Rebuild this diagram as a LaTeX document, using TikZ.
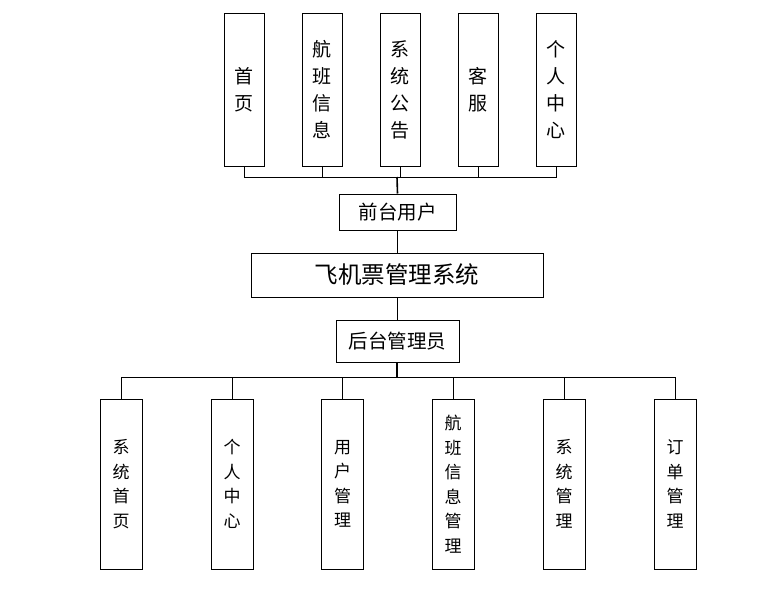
\documentclass[tikz,border=0pt]{standalone}
\usepackage{fontspec}
\setmainfont{Noto Sans CJK SC}
\usepackage{tikz}
\usetikzlibrary{positioning}
\tikzset{
  topbox/.style={rectangle, draw, line width=1pt, minimum width=40pt, minimum height=153pt, inner sep=0pt, align=center, font=\fontsize{19}{27}\selectfont},
  botbox/.style={rectangle, draw, line width=1pt, minimum width=42pt, minimum height=170pt, inner sep=0pt, align=center, font=\fontsize{17}{24.5}\selectfont},
  rolebox/.style={rectangle, draw, line width=1pt, inner sep=0pt, font=\fontsize{19.5}{22}\selectfont},
  link/.style={line width=0.8pt},
  trunk/.style={line width=1.6pt},
}

\begin{document}
\begin{tikzpicture}[x=1pt, y=-1pt]
    \useasboundingbox (0,0) rectangle (777,590);
    % front-end modules
    \foreach \name/\x/\txt in {top1/244/首\\页, top2/322/航\\班\\信\\息, top3/400/系\\统\\公\\告, top4/478/客\\服, top5/556/个\\人\\中\\心}
        \node[topbox] (\name) at (\x,89.5) {\txt};
    \node[rolebox, minimum width=117pt, minimum height=36pt] (front) at (397.5,212) {前台用户};
    \node[rolebox, minimum width=292pt, minimum height=44pt, font=\fontsize{23.5}{26}\selectfont] (sys) at (397,275) {飞机票管理系统};
    \node[rolebox, minimum width=123pt, minimum height=42pt] (back) at (397.5,341) {后台管理员};
    % back-end modules
    \foreach \name/\x/\txt in {bot1/121/系\\统\\首\\页, bot2/232/个\\人\\中\\心, bot3/342.5/用\\户\\管\\理, bot4/453/航\\班\\信\\息\\管\\理, bot5/564/系\\统\\管\\理, bot6/675/订\\单\\管\\理}
        \node[botbox] (\name) at (\x,484) {\txt};
    \coordinate (fbus) at (397,177);
    \coordinate (bbus) at (397,377);
    \foreach \i in {1,...,5}
        \draw[link] (top\i.south) |- (fbus);
    \draw[trunk] (fbus) -- (front.north);
    \draw[link] (front.south) -- (front.south |- sys.north);
    \draw[link] (sys.south -| back.north) -- (back.north);
    \draw[trunk] (back.south -| bbus) -- (bbus);
    \foreach \i in {1,...,6}
        \draw[link] (bbus) -| (bot\i.north);
\end{tikzpicture}
\end{document}
